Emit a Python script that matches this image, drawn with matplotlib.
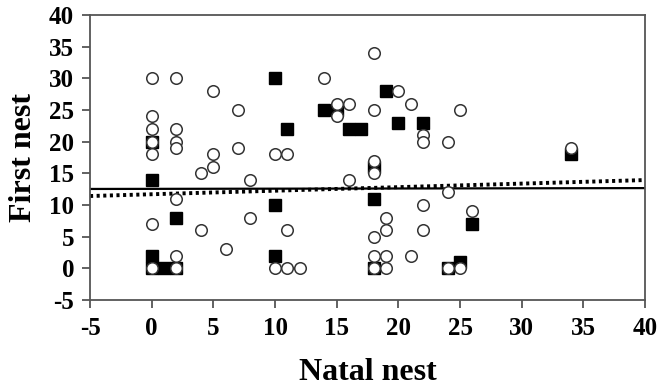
import matplotlib
matplotlib.use("Agg")
import matplotlib.pyplot as plt
import numpy as np

# open circles (natal nest, first nest)
circ_x = [0, 2, 5, 7, 14, 15, 15, 16,
          0, 0, 2, 0, 2, 2, 0, 5, 7, 10, 11,
          18, 20, 18, 21, 25, 22, 22, 24, 34,
          18, 18, 16, 24, 22, 26, 19, 19, 22, 18, 18, 19, 21, 18, 19, 24, 25,
          4, 5, 8, 2, 0, 8, 4, 11, 6, 2, 0, 2, 10, 11, 12]
circ_y = [30, 30, 28, 25, 30, 26, 24, 26,
          24, 22, 22, 20, 20, 19, 18, 18, 19, 18, 18,
          34, 28, 25, 26, 25, 21, 20, 20, 19,
          17, 15, 14, 12, 10, 9, 8, 6, 6, 5, 2, 2, 2, 0, 0, 0, 0,
          15, 16, 14, 11, 7, 8, 6, 6, 3, 2, 0, 0, 0, 0, 0]

# filled squares
sq_x = [10, 14, 15, 16, 17, 11, 0, 19, 20, 22, 34, 18, 0, 18, 10, 2, 26,
        0, 0, 1, 2, 10, 18, 24, 25]
sq_y = [30, 25, 25, 22, 22, 22, 20, 28, 23, 23, 18, 16, 14, 11, 10, 8, 7,
        2, 0, 0, 0, 2, 0, 0, 1]

# regression lines (intercept, slope)
solid_fit = (12.55, 0.003)
dotted_fit = (11.7, 0.056)

x_ticks = [-5, 0, 5, 10, 15, 20, 25, 30, 35, 40]
y_ticks = [-5, 0, 5, 10, 15, 20, 25, 30, 35, 40]

plt.rcParams['font.family'] = ['Liberation Serif', 'DejaVu Serif']
plt.rcParams['font.weight'] = 'bold'
plt.rcParams['axes.unicode_minus'] = False

fig = plt.figure(figsize=(6.58, 3.91), dpi=100)
ax = fig.add_axes([0.1368, 0.2327, 0.8435, 0.7289])

ax.plot(sq_x, sq_y, 's', ms=8.5, mfc='black', mec='black', zorder=3)
ax.plot(circ_x, circ_y, 'o', ms=8.3, mfc='white', mec='#333333', mew=1.1, zorder=4)

xl = np.array([-5, 40])
ax.plot(xl, solid_fit[0] + solid_fit[1] * xl, '-', color='black', lw=1.6, zorder=2)
ax.plot(xl, dotted_fit[0] + dotted_fit[1] * xl, color='black', lw=2.8,
        linestyle=(0, (0.8, 0.9)), zorder=2)

ax.set_xlim(-5, 40)
ax.set_ylim(-5, 40)
ax.set_xticks(x_ticks)
ax.set_yticks(y_ticks)

for s in ax.spines.values():
    s.set_color('#555555')
    s.set_linewidth(1.3)

ax.tick_params(axis='both', direction='out', length=5.5, width=1.3, color='#555555',
               labelsize=18, labelcolor='black')
ax.tick_params(axis='x', pad=7)
ax.tick_params(axis='y', pad=6)
for lab in ax.get_xticklabels() + ax.get_yticklabels():
    lab.set_fontweight('bold')

ax.set_xlabel('Natal nest', fontsize=23, fontweight='bold', labelpad=13)
ax.set_ylabel('First nest', fontsize=23, fontweight='bold', labelpad=8)

fig.savefig('out.png', dpi=100)
